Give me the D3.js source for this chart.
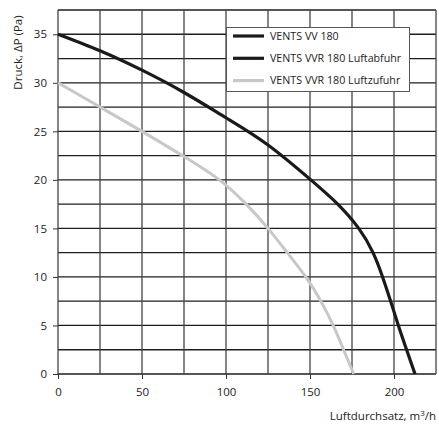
<!DOCTYPE html>
<html>
<head>
<meta charset="utf-8">
<script src="https://cdn.jsdelivr.net/npm/d3@7"></script>
<style>
  body { margin: 0; background: #fff; }
  text { font-family: "Open Sans", sans-serif; fill: #222; }
</style>
</head>
<body>
<svg id="chart" width="439" height="426"></svg>
<script>
// curve values
var vvFlow = [0, 25, 50, 75, 100, 125, 150.5, 166.5, 179, 187.5, 193.2, 198, 202.6, 207.5, 212.5];
var vvPressure = [35, 33.3, 31.3, 29, 26.4, 23.6, 20, 17.5, 15, 12.5, 10, 7.5, 5, 2.5, 0];
var zuFlow = [0, 25, 50, 75, 96, 112, 125, 136.5, 147.5, 156.5, 163.8, 170, 176];
var zuPressure = [30, 27.5, 25, 22.4, 20, 17.5, 15, 12.5, 10, 7.5, 5, 2.5, 0];

var seriesNames = ['VENTS VV 180', 'VENTS VVR 180 Luftabfuhr', 'VENTS VVR 180 Luftzufuhr'];
var seriesColors = ['#1a1a1a', '#1a1a1a', '#c8c8c8'];

var xTicks = [0, 50, 100, 150, 200];
var yTicks = [0, 5, 10, 15, 20, 25, 30, 35];

var svg = d3.select('#chart');
var pLeft = 58, pRight = 436, pTop = 10, pBottom = 374;
var fs = 11.5;

var x = d3.scaleLinear().domain([0, 225]).range([pLeft, pRight]);
var y = d3.scaleLinear().domain([0, 37.5]).range([pBottom, pTop]);

// grid
var g = svg.append('g');
g.selectAll('.hgrid')
  .data(d3.range(0, 37.6, 2.5))
  .enter().append('line')
  .attr('x1', pLeft).attr('x2', pRight)
  .attr('y1', function(d) { return y(d); })
  .attr('y2', function(d) { return y(d); })
  .attr('stroke', '#1e1e1e')
  .attr('stroke-width', 1.3);

g.selectAll('.vgrid')
  .data(d3.range(0, 226, 25))
  .enter().append('line')
  .attr('y1', pTop).attr('y2', pBottom)
  .attr('x1', function(d) { return x(d); })
  .attr('x2', function(d) { return x(d); })
  .attr('stroke', '#444')
  .attr('stroke-width', 1.3);

// axes ticks and labels
var styleAxis = function(s) {
  s.select('.domain').remove();
  s.selectAll('line').attr('stroke', '#333');
  s.selectAll('text').attr('font-size', fs).attr('fill', '#222')
    .attr('font-family', '"Open Sans", sans-serif');
};

svg.append('g')
  .attr('transform', 'translate(0,' + pBottom + ')')
  .call(d3.axisBottom(x).tickValues(xTicks).tickSize(5).tickPadding(9))
  .call(styleAxis);

svg.append('g')
  .attr('transform', 'translate(' + pLeft + ',0)')
  .call(d3.axisLeft(y).tickValues(yTicks).tickSize(5).tickPadding(6))
  .call(styleAxis);

// axis titles
svg.append('text')
  .attr('transform', 'translate(21.5,52.5) rotate(-90)')
  .attr('text-anchor', 'middle')
  .attr('font-size', fs)
  .text('Druck, ΔP (Pa)');

var xt = svg.append('text')
  .attr('x', pRight)
  .attr('y', 420)
  .attr('text-anchor', 'end')
  .attr('font-size', fs);
xt.append('tspan').text('Luftdurchsatz, m');
xt.append('tspan').attr('font-size', 8).attr('dy', -4.5).text('3');
xt.append('tspan').attr('dy', 4.5).text('/h');

// curves
var line = d3.line()
  .x(function(d) { return x(d[0]); })
  .y(function(d) { return y(d[1]); })
  .curve(d3.curveNatural);

var vvData = d3.zip(vvFlow, vvPressure);
var zuData = d3.zip(zuFlow, zuPressure);

svg.append('path')
  .datum(zuData)
  .attr('d', line)
  .attr('fill', 'none')
  .attr('stroke', seriesColors[2])
  .attr('stroke-width', 3);

svg.append('path')
  .datum(vvData)
  .attr('d', line)
  .attr('fill', 'none')
  .attr('stroke', seriesColors[0])
  .attr('stroke-width', 3.2);

// legend
var lg = svg.append('g');
lg.append('rect')
  .attr('x', 226.5).attr('y', 27.5)
  .attr('width', 183).attr('height', 64)
  .attr('fill', '#fff')
  .attr('stroke', '#555')
  .attr('stroke-width', 1);

var items = lg.selectAll('.item')
  .data(seriesNames)
  .enter().append('g')
  .attr('transform', function(d, i) { return 'translate(0,' + (36 + i * 22.3) + ')'; });

items.append('line')
  .attr('x1', 233).attr('x2', 264)
  .attr('stroke', function(d, i) { return seriesColors[i]; })
  .attr('stroke-width', 3.2);

items.append('text')
  .attr('x', 270)
  .attr('dy', '0.35em')
  .attr('font-size', 10.7)
  .text(function(d) { return d; });
</script>
</body>
</html>
